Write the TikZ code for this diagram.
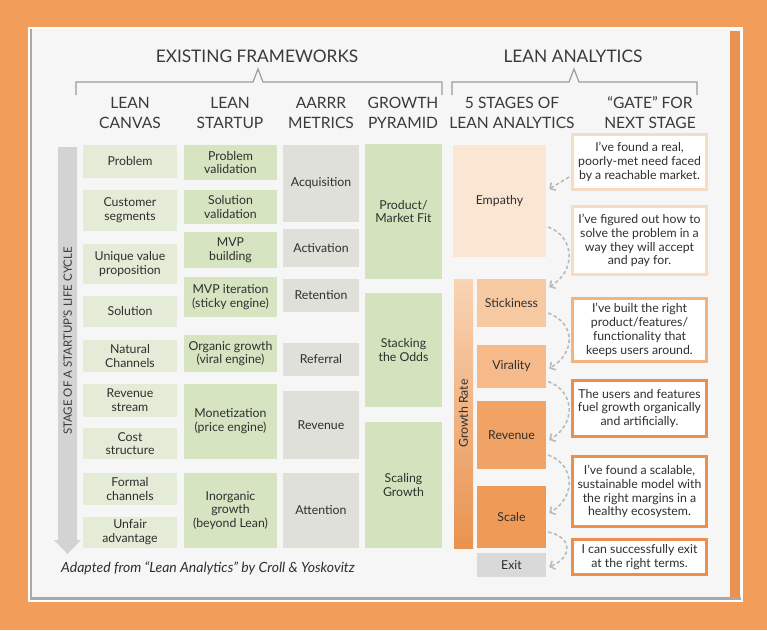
\documentclass[tikz,border=0pt]{standalone}
\usepackage{fontspec}
\setmainfont{Lato}
\usetikzlibrary{arrows.meta}

\definecolor{bgorange}{HTML}{F29D59}
\definecolor{cardgray}{HTML}{F6F6F6}
\definecolor{edgegray}{HTML}{A9A9A9}
\definecolor{striporange}{HTML}{E9924F}
\definecolor{headgray}{HTML}{3A3A3A}
\definecolor{boxtext}{HTML}{2F2F2F}
\definecolor{bracketgray}{HTML}{9C9C9C}
\definecolor{lifegray}{HTML}{D3D3D3}
\definecolor{canvasgreen}{HTML}{E4EBD6}
\definecolor{startupgreen}{HTML}{D6E4C2}
\definecolor{aarrrgray}{HTML}{DFE0DA}
\definecolor{pyramidgreen}{HTML}{D3E3BE}
\definecolor{empathycol}{HTML}{FAE6D3}
\definecolor{stickycol}{HTML}{F7C9A3}
\definecolor{viralcol}{HTML}{F5B98A}
\definecolor{revenuecol}{HTML}{F1A365}
\definecolor{scalecol}{HTML}{EF9A57}
\definecolor{exitgray}{HTML}{D9D9D9}
\definecolor{gatepale}{HTML}{F7DCC3}
\definecolor{gatemid}{HTML}{F2B37F}
\definecolor{gatestrong}{HTML}{EC8F4C}
\definecolor{arrowgray}{HTML}{BABABA}

\newcommand\boxfont{\fontsize{12.3}{13.8}\selectfont}

\tikzset{
  title/.style={text=headgray, font=\fontsize{17.3}{20}\selectfont},
  colhead/.style={text=headgray, align=center, font=\fontsize{15.6}{20}\selectfont},
  bracket/.style={draw=bracketgray, line width=1.2pt},
  cell/.style={inner sep=0pt, align=center, text=boxtext, font=\boxfont},
  canvasbox/.style={cell, fill=canvasgreen, minimum width=94},
  startupbox/.style={cell, fill=startupgreen, minimum width=93},
  aarrrbox/.style={cell, fill=aarrrgray, minimum width=76},
  pyramidbox/.style={cell, fill=pyramidgreen, minimum width=77},
  stagebox/.style={cell, minimum width=69},
  gatebox/.style={cell, fill=white, draw=#1, line width=2.8pt, minimum width=134},
  flowarrow/.style={draw=arrowgray, line width=1.6pt, dash pattern=on 3.5pt off 2.5pt,
    -{Straight Barb[length=4pt,width=9pt]}}
}

\begin{document}
\begin{tikzpicture}[x=1pt,y=-1pt]
\useasboundingbox (0,0) rectangle (767,630);
\fill[bgorange] (0,0) rectangle (767,630);
\fill[white] (28,27) rectangle (743,602);
\fill[edgegray] (30,29) rectangle (741,600);
\fill[cardgray] (31.5,29) rectangle (741,596.5);
\fill[striporange] (730,31) rectangle (740,597);

% headers
\node[title] (existing) at (257,56) {EXISTING FRAMEWORKS};
\node[title] (analytics) at (573,56) {LEAN ANALYTICS};
\draw[bracket] (76,95) -- (76,82) -- (253,82) -- (258,69) -- (263,82) -- (442,82) -- (442,95);
\draw[bracket] (452,95) -- (452,82) -- (569,82) -- (574,69) -- (579,82) -- (697,82) -- (697,95);
\node[colhead] (hcanvas) at (130,113) {LEAN\\CANVAS};
\node[colhead] (hstartup) at (230,113) {LEAN\\STARTUP};
\node[colhead] (haarrr) at (321,113) {AARRR\\METRICS};
\node[colhead] (hpyramid) at (403,113) {GROWTH\\PYRAMID};
\node[colhead] (hstages) at (512,113) {5 STAGES OF\\LEAN ANALYTICS};
\node[colhead] (hgate) at (650,113) {“GATE” FOR\\NEXT STAGE};

% life cycle arrow
\fill[lifegray] (58,147) -- (77,147) -- (77,540) -- (81,540) -- (67.5,554) -- (54,540) -- (58,540) -- cycle;
\node[rotate=90, text=headgray, font=\fontsize{11.5}{14}\selectfont] (lifecycle) at (67.5,341) {STAGE OF A STARTUP'S LIFE CYCLE};

% lean canvas
\node[canvasbox, minimum height=33] (problem) at (130,161.5) {Problem};
\node[canvasbox, minimum height=41] (segments) at (130,210.5) {Customer\\segments};
\node[canvasbox, minimum height=40] (uvp) at (130,264) {Unique value\\proposition};
\node[canvasbox, minimum height=31] (solution) at (130,311.5) {Solution};
\node[canvasbox, minimum height=32] (natural) at (130,356) {Natural\\Channels};
\node[canvasbox, minimum height=33] (stream) at (130,400.5) {Revenue\\stream};
\node[canvasbox, minimum height=31] (cost) at (130,443.5) {Cost\\structure};
\node[canvasbox, minimum height=32] (formal) at (130,489) {Formal\\channels};
\node[canvasbox, minimum height=31] (unfair) at (130,532.5) {Unfair\\advantage};

% lean startup
\node[startupbox, minimum height=35] (probval) at (230.5,162.5) {Problem\\validation};
\node[startupbox, minimum height=34] (solval) at (230.5,207) {Solution\\validation};
\node[startupbox, minimum height=36] (mvpbuild) at (230.5,250) {MVP\\building};
\node[startupbox, minimum height=40] (mvpiter) at (230.5,297) {MVP iteration\\(sticky engine)};
\node[startupbox, minimum height=37] (organic) at (230.5,353.5) {Organic growth\\(viral engine)};
\node[startupbox, minimum height=75] (monetize) at (230.5,421.5) {Monetization\\(price engine)};
\node[startupbox, minimum height=75] (inorganic) at (230.5,510.5) {Inorganic\\growth\\(beyond Lean)};

% aarrr
\node[aarrrbox, minimum height=77] (acquisition) at (321,183.5) {Acquisition};
\node[aarrrbox, minimum height=38] (activation) at (321,248) {Activation};
\node[aarrrbox, minimum height=33] (retention) at (321,295.5) {Retention};
\node[aarrrbox, minimum height=33] (referral) at (321,359.5) {Referral};
\node[aarrrbox, minimum height=68] (arevenue) at (321,425) {Revenue};
\node[aarrrbox, minimum height=75] (attention) at (321,510.5) {Attention};

% growth pyramid
\node[pyramidbox, minimum height=135] (pmfit) at (403.5,211.5) {Product/\\Market Fit};
\node[pyramidbox, minimum height=114] (odds) at (403.5,350) {Stacking\\the Odds};
\node[pyramidbox, minimum height=126] (scaling) at (403.5,485) {Scaling\\Growth};

% stages
\node[cell, fill=empathycol, minimum width=93, minimum height=112] (empathy) at (499.5,201) {Empathy};
\node[cell, top color=stickycol!80!white, bottom color=striporange, minimum width=19, minimum height=269] (growthbar) at (463.5,413.5) {};
\node[rotate=90, text=boxtext, font=\boxfont] (growthrate) at (growthbar) {Growth Rate};
\node[stagebox, fill=stickycol, minimum height=48] (stickiness) at (511.5,303) {Stickiness};
\node[stagebox, fill=viralcol, minimum height=43] (virality) at (511.5,366.5) {Virality};
\node[stagebox, fill=revenuecol, minimum height=68] (revenue) at (511.5,435) {Revenue};
\node[stagebox, fill=scalecol, minimum height=62] (scale) at (511.5,517) {Scale};
\node[stagebox, fill=exitgray, minimum height=24] (exit) at (511.5,565) {Exit};

% gates
\node[gatebox=gatepale, minimum height=55] (g1) at (639.5,162) {I've found a real,\\poorly-met need faced\\by a reachable market.};
\node[gatebox=gatepale, minimum height=68] (g2) at (639.5,240.5) {I've figured out how to\\solve the problem in a\\way they will accept\\and pay for.};
\node[gatebox=gatemid, minimum height=63] (g3) at (639.5,330) {I've built the right\\product/features/\\functionality that\\keeps users around.};
\node[gatebox=gatestrong, minimum height=56] (g4) at (639.5,408.5) {The users and features\\fuel growth organically\\and artificially.};
\node[gatebox=gatestrong, minimum height=70] (g5) at (639.5,491.5) {I've found a scalable,\\sustainable model with\\the right margins in a\\healthy ecosystem.};
\node[gatebox=gatestrong, minimum height=35] (g6) at (639.5,557) {I can successfully exit\\at the right terms.};

% gate arrows
\draw[flowarrow] ([xshift=-2pt,yshift=-15pt]g1.west) -- ([xshift=3pt,yshift=12pt]empathy.east);
\draw[flowarrow] ([xshift=2pt,yshift=-26pt]empathy.east) .. controls +(27,10) and +(27,-16) .. ([xshift=3pt,yshift=16pt]stickiness.east);
\draw[flowarrow] ([xshift=2pt,yshift=-10pt]stickiness.east) .. controls +(27,10) and +(27,-16) .. ([xshift=3pt,yshift=-2pt]virality.east);
\draw[flowarrow] ([xshift=2pt,yshift=-15pt]virality.east) .. controls +(27,10) and +(27,-16) .. ([xshift=3pt,yshift=-5pt]revenue.east);
\draw[flowarrow] ([xshift=2pt,yshift=-20pt]revenue.east) .. controls +(27,10) and +(27,-16) .. ([xshift=3pt,yshift=4pt]scale.east);
\draw[flowarrow] ([xshift=2pt,yshift=-15pt]scale.east) .. controls +(24,5) and +(24,-10) .. ([xshift=3pt,yshift=-2pt]exit.east);

% footer
\node[text=boxtext, font=\itshape\fontsize{14}{16}\selectfont] (source) at (208,568) {Adapted from “Lean Analytics” by Croll \& Yoskovitz};
\end{tikzpicture}
\end{document}
